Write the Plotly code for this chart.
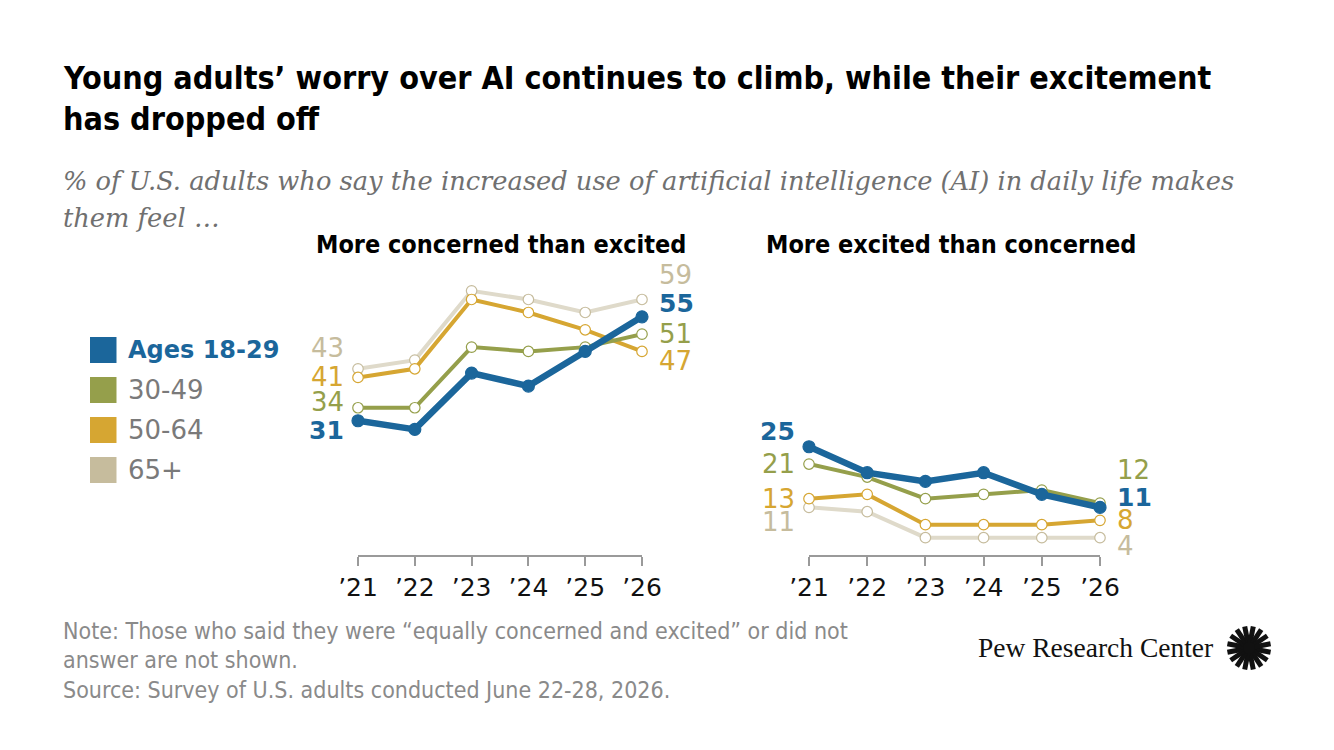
import math
import plotly.graph_objects as go
from plotly.subplots import make_subplots

YEARS = [2021, 2022, 2023, 2024, 2025, 2026]
YEAR_LABELS = ["\u201921", "\u201922", "\u201923", "\u201924", "\u201925", "\u201926"]
GROUPS = ["Ages 18-29", "30-49", "50-64", "65+"]

concerned_18_29 = [31, 29, 42, 39, 47, 55]
concerned_30_49 = [34, 34, 48, 47, 48, 51]
concerned_50_64 = [41, 43, 59, 56, 52, 47]
concerned_65 = [43, 45, 61, 59, 56, 59]

excited_18_29 = [25, 19, 17, 19, 14, 11]
excited_30_49 = [21, 18, 13, 14, 15, 12]
excited_50_64 = [13, 14, 7, 7, 7, 8]
excited_65 = [11, 10, 4, 4, 4, 4]

LINE_COLORS = ["#1B669B", "#959F4B", "#D6A632", "#DFDACA"]
LABEL_COLORS = ["#1B669B", "#959F4B", "#D6A632", "#C6BC9D"]
LEGEND_COLORS = ["#1B669B", "#959F4B", "#D6A632", "#C6BC9D"]

# pixel nudges for end labels so they don't collide (start, end)
LEFT_SHIFTS = {"start": [-10, 6, 0, 21], "end": [13, 0, -10, 24]}
RIGHT_SHIFTS = {"start": [15, 0, 0, -15], "end": [10, 33, 0, -8]}

W, H = 1334, 750
# the page lands a bit offset/narrower in the snapshot; place things in snapshot pixels
OX, OY, PW = 28, 8, 1294
COND = "DejaVu Sans Condensed, Liberation Sans Narrow, Roboto, sans-serif"
SANS = "DejaVu Sans, sans-serif"


def fx(x):
    return (x - OX) / PW


def fy(y):
    return 1 - (y - OY) / H


fig = make_subplots(rows=1, cols=2)

panels = [
    ([concerned_18_29, concerned_30_49, concerned_50_64, concerned_65], 1, LEFT_SHIFTS),
    ([excited_18_29, excited_30_49, excited_50_64, excited_65], 2, RIGHT_SHIFTS),
]

for series, col, shifts in panels:
    xr = "x" if col == 1 else "x2"
    yr = "y" if col == 1 else "y2"
    # draw older groups first so 18-29 sits on top
    for i in [3, 2, 1, 0]:
        vals = series[i]
        young = i == 0
        fig.add_trace(go.Scatter(
            x=YEARS, y=vals, mode="lines+markers",
            line=dict(color=LINE_COLORS[i], width=6.5 if young else 4),
            marker=dict(
                size=12 if young else 10.5,
                color=LINE_COLORS[i] if young else "white",
                line=dict(color=LINE_COLORS[i] if young else LABEL_COLORS[i], width=1.2),
            ),
            cliponaxis=False, showlegend=False, hoverinfo="skip",
        ), row=1, col=col)
        fnt = dict(family=SANS, size=26, color=LABEL_COLORS[i])
        if young:
            fnt["weight"] = "bold"
            fnt["size"] = 25
        fig.add_annotation(
            x=YEARS[0], y=vals[0], xref=xr, yref=yr, text=str(vals[0]),
            xanchor="right", yanchor="middle", xshift=-12, yshift=shifts["start"][i],
            showarrow=False, font=fnt,
        )
        fig.add_annotation(
            x=YEARS[-1], y=vals[-1], xref=xr, yref=yr, text=str(vals[-1]),
            xanchor="left", yanchor="middle", xshift=15, yshift=shifts["end"][i],
            showarrow=False, font=fnt,
        )

axis_common = dict(
    range=[2021, 2026], tickvals=YEARS, ticktext=YEAR_LABELS,
    showgrid=False, zeroline=False, showline=True, linecolor="#9a9a9a", linewidth=1.5,
    ticks="outside", ticklen=9, tickcolor="#9a9a9a", tickwidth=1.5,
    tickfont=dict(family=SANS, size=25, color="#111111"),
)
yaxis_common = dict(range=[0, 65], visible=False, showgrid=False, zeroline=False)

y_dom = [fy(555), fy(273.5)]
fig.update_xaxes(domain=[fx(358), fx(642)], **axis_common, row=1, col=1)
fig.update_xaxes(domain=[fx(809), fx(1100)], **axis_common, row=1, col=2)
fig.update_yaxes(domain=y_dom, **yaxis_common, row=1, col=1)
fig.update_yaxes(domain=y_dom, **yaxis_common, row=1, col=2)


def paper_text(x, y, text, size, color, family, anchor="left", weight="normal", style="normal"):
    fig.add_annotation(
        x=fx(x), y=fy(y), xref="paper", yref="paper", text=text, showarrow=False,
        xanchor=anchor, yanchor="middle", align=anchor,
        font=dict(size=size, color=color, family=family, weight=weight, style=style),
    )


# title and subtitle
paper_text(61, 78, "Young adults\u2019 worry over AI continues to climb, while their excitement",
           32, "#000000", COND, weight="bold")
paper_text(61, 119, "has dropped off", 32, "#000000", COND, weight="bold")
paper_text(61, 181, "% of U.S. adults who say the increased use of artificial intelligence (AI) in daily life makes",
           25.7, "#707070", "DejaVu Serif, serif", style="italic")
paper_text(61, 218, "them feel \u2026", 25.7, "#707070", "DejaVu Serif, serif", style="italic")

# panel titles
paper_text(501, 244, "More concerned than excited", 25, "#000000", COND, anchor="center", weight="bold")
paper_text(951, 244, "More excited than concerned", 25, "#000000", COND, anchor="center", weight="bold")

# legend
for i, g in enumerate(GROUPS):
    yc = 350 + i * 40
    fig.add_shape(type="rect", xref="paper", yref="paper",
                  x0=fx(90), x1=fx(116.5), y0=fy(yc + 13), y1=fy(yc - 13),
                  fillcolor=LEGEND_COLORS[i], line=dict(width=0))
    if i == 0:
        paper_text(126, yc, g, 24, LEGEND_COLORS[0], SANS, weight="bold")
    else:
        paper_text(126, yc, g, 26, "#7a7a7a", SANS)

# notes
paper_text(61, 631, "Note: Those who said they were \u201cequally concerned and excited\u201d or did not",
           23, "#8a8a8a", COND)
paper_text(61, 660, "answer are not shown.", 23, "#8a8a8a", COND)
paper_text(61, 690, "Source: Survey of U.S. adults conducted June 22-28, 2026.", 23, "#8a8a8a", COND)

# Pew logo
paper_text(1215, 647, "Pew Research Center", 27.5, "#111111", "Liberation Serif, serif", anchor="right")
cx, cy, r = 1249, 648, 22
for k in range(16):
    a = 2 * math.pi * (k + 0.5) / 16
    x0, y0 = cx + 5 * math.cos(a), cy + 5 * math.sin(a)
    x1, y1 = cx + r * math.cos(a), cy + r * math.sin(a)
    fig.add_shape(type="line", xref="paper", yref="paper",
                  x0=fx(x0), y0=fy(y0), x1=fx(x1), y1=fy(y1),
                  line=dict(color="#111111", width=5))
fig.add_shape(type="circle", xref="paper", yref="paper",
              x0=fx(cx - 6), x1=fx(cx + 6), y0=fy(cy + 6), y1=fy(cy - 6),
              fillcolor="#111111", line=dict(width=0))

fig.update_layout(
    width=W, height=H, margin=dict(l=0, r=0, t=0, b=0),
    paper_bgcolor="white", plot_bgcolor="white", showlegend=False,
)

fig.write_html("out.html")
